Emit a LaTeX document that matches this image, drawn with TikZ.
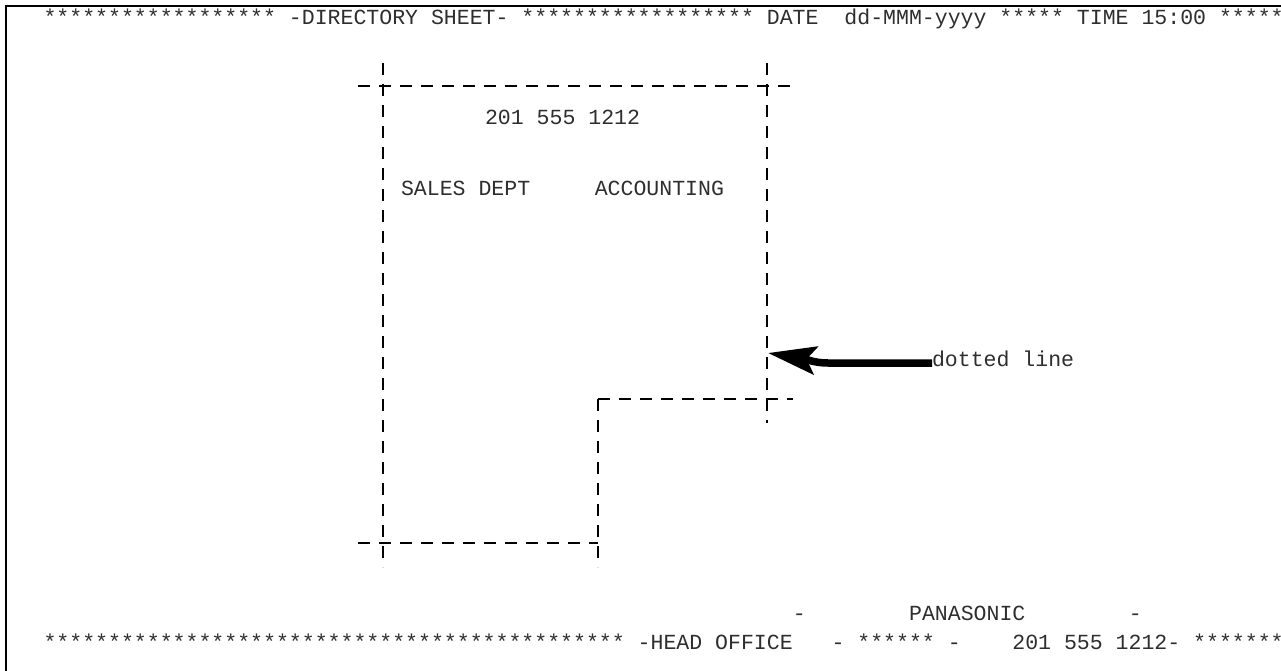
\documentclass[tikz,border=0pt]{standalone}
\usepackage{fontspec}
\setmonofont{Liberation Mono}
\usetikzlibrary{arrows.meta}
\begin{document}
\begin{tikzpicture}[x=1pt,y=-1pt,
  txt/.style={anchor=base west,inner sep=0pt,outer sep=0pt,
    font=\ttfamily\fontsize{21.53}{26}\selectfont,text=black!82},
  dline/.style={line width=2pt,dash pattern=on 12pt off 9pt},
  border/.style={line width=1.5pt}]
\useasboundingbox (0,0) rectangle (1281,671);
\draw[border] (6,671) -- (6,6) -- (1281,6);
% header
\node[txt] (head) at (43.5,25) {******************~-DIRECTORY~SHEET-~******************~DATE~~dd-MMM-yyyy~*****~TIME~15:00~*****};
% box texts
\node[txt] (tel) at (485,125) {201~555~1212};
\node[txt] (dept) at (401,195) {SALES~DEPT~~~~~ACCOUNTING};
% dashed outline
\coordinate (lt) at (383,63);
\coordinate (lb) at (383,567);
\coordinate (rt) at (767,63);
\coordinate (rb) at (767,423);
\coordinate (ib) at (598,567);
\draw[dline] (lt) -- (lb);
\draw[dline] (rt) -- (rb);
\draw[dline] (358,86) -- (793,86);
\draw[dline] (598,399) -- (793,399);
\draw[dline] (598,399) -- (ib);
\draw[dline] (358,543) -- (598,543);
% arrow
\node[txt] (dl) at (932,366) {dotted~line};
\coordinate (tip) at (768,353);
\draw[line width=7.5pt,-{Stealth[length=48pt,width=28pt,inset=9pt]}]
  (dl.base west) ++(0,-3) -- (828,363) .. controls (814,363) and (806,359) .. (tip);
% footer
\node[txt] (pan) at (43.5,620) {~~~~~~~~~~~~~~~~~~~~~~~~~~~~~~~~~~~~~~~~~~~~~~~~~~~~~~~~~~-~~~~~~~~PANASONIC~~~~~~~~-};
\node[txt] (foot) at (43.5,649) {*********************************************~-HEAD~OFFICE~~~-~******~-~~~~201~555~1212-~*******};
\end{tikzpicture}
\end{document}
